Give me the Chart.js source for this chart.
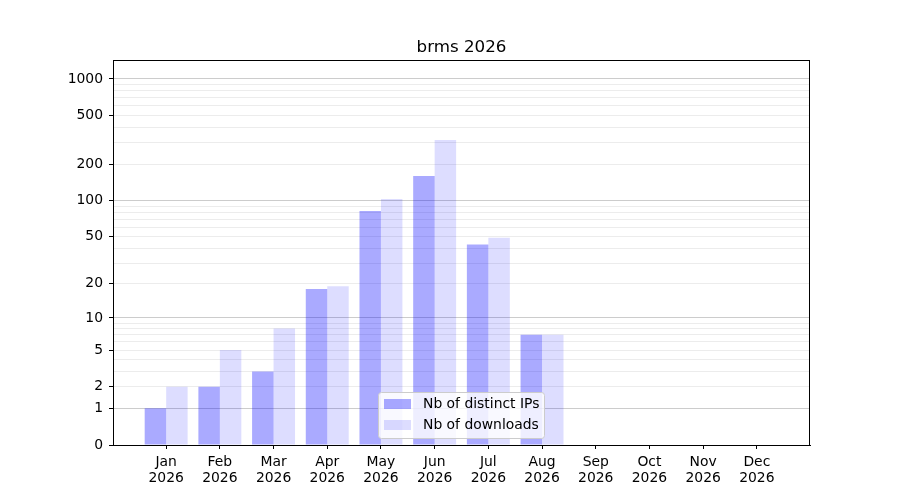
<!DOCTYPE html>
<html>
<head>
<meta charset="utf-8">
<script src="https://cdn.jsdelivr.net/npm/chart.js@4/dist/chart.umd.min.js"></script>
<style>
html,body{margin:0;padding:0;background:#fff;}
#wrap{width:900px;height:500px;}
</style>
</head>
<body>
<div id="wrap"><canvas id="c" width="900" height="500"></canvas></div>
<script>
const chartTitle = 'brms 2026';
const months = ['Jan','Feb','Mar','Apr','May','Jun','Jul','Aug','Sep','Oct','Nov','Dec'];
const year = '2026';
const seriesLabels = ['Nb of distinct IPs', 'Nb of downloads'];
const ipValues = [1, 2, 3, 18, 82, 159, 43, 7, 0, 0, 0, 0];
const downloadValues = [2, 5, 8, 19, 103, 315, 49, 7, 0, 0, 0, 0];
const yTickLabels = [0, 1, 2, 5, 10, 20, 50, 100, 200, 500, 1000];
const yMajorGrid = [1, 10, 100, 1000];
const yMinorGrid = [2,3,4,5,6,7,8,9,20,30,40,50,60,70,80,90,200,300,400,500,600,700,800,900];
const yMaxValue = 1431;

const FONT = 'DejaVu Sans';
const tf = v => Math.log10(1 + v);
const near = (a, b) => Math.abs(a - b) < 1e-9;

const gridVals = [0].concat(yMajorGrid, yMinorGrid).sort((a,b)=>a-b);

function mkData(arr){ return arr.map((v,i)=>({x:i, y:tf(v), raw:v})); }

const overlay = {
  id: 'overlay',
  afterDatasetsDraw(chart){
    const ctx = chart.ctx, ca = chart.chartArea;
    ctx.save();
    // spines
    ctx.strokeStyle = '#000'; ctx.lineWidth = 1;
    ctx.strokeRect(Math.round(ca.left)+0.5, Math.round(ca.top)+0.5, Math.round(ca.right-ca.left)-1, Math.round(ca.bottom-ca.top));
    // title
    ctx.fillStyle = '#000';
    ctx.font = '16.7px "' + FONT + '"';
    ctx.textAlign = 'center'; ctx.textBaseline = 'middle';
    ctx.fillText(chartTitle, (ca.left + ca.right)/2, 48);
    // legend
    const bx = 378.5, by = 392.5, bw = 166, bh = 46;
    ctx.fillStyle = 'rgba(255,255,255,0.8)';
    ctx.strokeStyle = '#cccccc';
    ctx.beginPath();
    if (ctx.roundRect) ctx.roundRect(bx, by, bw, bh, 3); else ctx.rect(bx, by, bw, bh);
    ctx.fill(); ctx.stroke();
    ctx.font = '13.9px "' + FONT + '"';
    ctx.textAlign = 'left'; ctx.textBaseline = 'middle';
    chart.data.datasets.forEach((ds, i) => {
      const cy = 404 + i * 21;
      ctx.fillStyle = ds.backgroundColor;
      ctx.fillRect(384, cy - 5, 27, 10);
      ctx.fillStyle = '#000';
      ctx.fillText(ds.label, 423, cy + 0.5);
    });
    ctx.restore();
  }
};

new Chart(document.getElementById('c'), {
  type: 'bar',
  data: {
    datasets: [
      { label: seriesLabels[0], data: mkData(ipValues), backgroundColor: 'rgba(0,0,255,0.333)', borderWidth: 0 },
      { label: seriesLabels[1], data: mkData(downloadValues), backgroundColor: 'rgba(0,0,255,0.133)', borderWidth: 0 }
    ]
  },
  options: {
    responsive: false,
    animation: false,
    devicePixelRatio: 1,
    layout: { padding: { left: 0, right: 90, top: 60, bottom: 0 } },
    datasets: { bar: { categoryPercentage: 0.8, barPercentage: 1.0 } },
    plugins: { legend: { display: false }, title: { display: false }, tooltip: { enabled: false } },
    scales: {
      x: {
        type: 'linear',
        offset: false,
        min: -0.99, max: 11.99,
        afterBuildTicks: s => { s.ticks = months.map((m,i)=>({value:i})); },
        afterFit: s => { s.height = 55; },
        grid: { display: true, offset: false, drawOnChartArea: false, drawTicks: true, tickLength: 4, tickColor: '#000', tickWidth: 1 },
        border: { display: true, color: '#000', width: 1 },
        ticks: {
          autoSkip: false, maxRotation: 0, padding: 5, color: '#000',
          font: { family: FONT, size: 13.9, lineHeight: 1.15 },
          callback: v => (Number.isInteger(v) && months[v]) ? [months[v], year] : ''
        }
      },
      y: {
        type: 'linear',
        min: 0, max: tf(yMaxValue),
        afterBuildTicks: s => { s.ticks = gridVals.map(v => ({value: tf(v), raw: v})); },
        afterFit: s => { s.width = 113; },
        grid: {
          display: true, drawOnChartArea: true, drawTicks: true, tickLength: 4, lineWidth: 1,
          color: c => {
            const t = c.tick; if (!t) return 'rgba(0,0,0,0)';
            if (near(t.value, 0)) return 'rgba(0,0,0,0)';
            return yMajorGrid.some(v => near(tf(v), t.value)) ? '#cccccc' : '#ececec';
          },
          tickColor: c => {
            const t = c.tick; if (!t) return 'rgba(0,0,0,0)';
            return yTickLabels.some(v => near(tf(v), t.value)) ? '#000' : 'rgba(0,0,0,0)';
          }
        },
        border: { display: true, color: '#000', width: 1 },
        ticks: {
          autoSkip: false, padding: 6, color: '#000',
          font: { family: FONT, size: 13.9 },
          callback: v => { const m = yTickLabels.find(t => near(tf(t), v)); return m === undefined ? '' : String(m); }
        }
      }
    }
  },
  plugins: [overlay]
});
</script>
</body>
</html>
